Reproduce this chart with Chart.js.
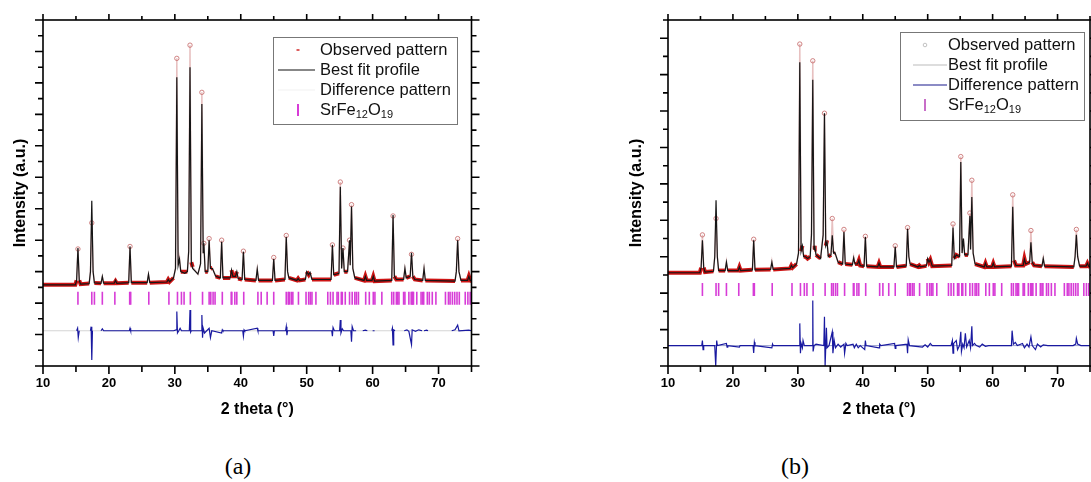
<!DOCTYPE html>
<html>
<head>
<meta charset="utf-8">
<script src="https://cdn.jsdelivr.net/npm/chart.js@4.4.1/dist/chart.umd.min.js"></script>
<style>
  html, body { margin: 0; padding: 0; background: #fff; }
  body { width: 1091px; height: 482px; overflow: hidden; position: relative; }
  canvas { position: absolute; top: 0; }
  #cA { left: 0; }
  #cB { left: 620px; }
  .cap { position: absolute; top: 452px; font-family: "Liberation Serif", "Times New Roman", serif; font-size: 24px; line-height: 28px; color: #000; transform: translateX(-50%); }
</style>
</head>
<body>
<canvas id="cA" width="520" height="430"></canvas>
<canvas id="cB" width="480" height="430"></canvas>
<div class="cap" style="left:238px">(a)</div>
<div class="cap" style="left:795px">(b)</div>
<script>
// ---------------- data ----------------
const xTickLabels = [10, 20, 30, 40, 50, 60, 70];
const legendLabels = ['Observed pattern', 'Best fit profile', 'Difference pattern', 'SrFe12O19'];
const phaseParts = [['SrFe', false], ['12', true], ['O', false], ['19', true]];

// SrFe12O19 reflection positions (2 theta, degrees)
const reflections = [15.3, 17.4, 17.8, 19.0, 20.9, 23.15, 23.3, 26.05, 29.1, 30.4, 31.0, 31.4, 32.35,
  34.2, 35.2, 35.45, 35.8, 36.1, 37.2, 38.55, 38.65, 39.1, 39.4, 40.45, 42.6, 43.1, 44.0, 45.0,
  46.9, 47.2, 47.35, 47.65, 47.9, 48.75, 49.9, 50.3, 50.55, 50.8, 51.4, 53.2, 53.6, 54.0, 54.6,
  54.8, 55.25, 55.4, 55.85, 56.5, 56.9, 57.3, 57.55, 57.85, 58.95, 59.5, 60.1, 60.35, 61.4,
  62.9, 63.2, 63.6, 63.8, 64.0, 64.7, 64.9, 65.5, 65.85, 66.0, 66.1, 66.2, 66.7, 67.35, 67.6,
  67.75, 68.3, 68.6, 69.05, 69.6, 71.05, 71.5, 71.75, 72.1, 72.45, 72.8, 73.15, 74.05, 74.45, 74.8];

// ---- panel (a) ----
const twoThetaA = [10.0, 14.9, 15.1, 15.3, 15.5, 15.7, 17.0, 17.2, 17.4, 17.6, 17.8, 18.8, 19.0, 19.2,
  20.8, 21.0, 21.2, 23.0, 23.2, 23.4, 25.8, 26.0, 26.2, 28.8, 29.0, 29.2, 29.8, 30.1, 30.3, 30.5,
  30.7, 30.9, 31.5, 31.9, 32.1, 32.3, 32.5, 32.7, 33.5, 33.9, 34.1, 34.3, 34.4, 34.6, 35.0, 35.2,
  35.4, 35.7, 36.2, 36.9, 37.1, 37.3, 38.4, 38.6, 38.8, 39.2, 39.4, 39.6, 40.2, 40.4, 40.6, 42.3,
  42.5, 42.7, 44.8, 45.0, 45.2, 46.7, 46.9, 47.1, 47.3, 48.5, 48.7, 48.9, 49.8, 50.0, 50.3, 50.5,
  50.8, 53.7, 53.9, 54.1, 54.9, 55.1, 55.3, 55.5, 55.7, 56.2, 56.5, 56.6, 56.8, 57.0, 57.3, 58.7,
  58.9, 59.1, 59.9, 60.1, 60.3, 62.9, 63.1, 63.3, 63.6, 64.7, 64.9, 65.1, 65.7, 65.9, 66.1, 66.4,
  67.6, 67.8, 68.0, 72.5, 72.7, 72.9, 73.1, 73.4, 74.4, 74.6, 74.8, 75.0];
const calculatedA = [2.58, 2.58, 2.72, 3.75, 2.72, 2.6, 2.62, 3.0, 5.25, 3.0, 2.64, 2.63, 2.85, 2.63,
  2.63, 2.72, 2.63, 2.65, 3.8, 2.65, 2.65, 2.92, 2.65, 2.67, 2.75, 2.68, 2.8, 3.1, 9.18, 3.2,
  3.4, 3.0, 2.95, 3.0, 3.65, 9.5, 3.3, 3.1, 2.92, 3.25, 8.33, 3.6, 3.9, 3.0, 3.0, 4.0,
  3.1, 3.1, 2.85, 2.8, 3.95, 2.8, 2.8, 3.05, 2.85, 2.85, 3.0, 2.78, 2.75, 3.63, 2.75, 2.72,
  3.08, 2.72, 2.72, 3.4, 2.72, 2.75, 4.1, 3.0, 2.8, 2.72, 2.78, 2.72, 2.75, 3.0, 2.9, 2.98,
  2.75, 2.75, 3.85, 2.9, 2.95, 5.7, 3.1, 3.75, 3.0, 3.0, 4.0, 3.2, 5.07, 3.1, 2.8, 2.72,
  2.85, 2.72, 2.72, 2.85, 2.7, 2.72, 4.8, 2.85, 2.75, 2.75, 3.1, 2.8, 2.85, 3.6, 2.85, 2.75,
  2.72, 3.1, 2.72, 2.7, 3.0, 4.0, 3.0, 2.72, 2.72, 2.85, 2.72, 2.7];
const observedA = [2.58, 2.58, 2.72, 3.72, 2.72, 2.6, 2.62, 3.0, 4.55, 3.0, 2.64, 2.63, 2.83, 2.63,
  2.63, 2.7, 2.63, 2.65, 3.8, 2.65, 2.65, 2.9, 2.65, 2.67, 2.75, 2.68, 2.8, 3.1, 9.78, 3.2,
  3.45, 3.0, 3.0, 3.0, 3.65, 10.2, 3.3, 3.15, 2.92, 3.25, 8.7, 3.6, 3.9, 3.0, 3.0, 4.05,
  3.1, 3.12, 2.85, 2.8, 4.0, 2.8, 2.8, 3.05, 2.85, 2.85, 3.0, 2.78, 2.75, 3.65, 2.75, 2.72,
  3.08, 2.72, 2.72, 3.45, 2.72, 2.75, 4.15, 3.0, 2.8, 2.72, 2.78, 2.72, 2.75, 3.0, 2.9, 2.98,
  2.75, 2.75, 3.85, 2.9, 2.95, 5.85, 3.1, 3.75, 3.0, 3.0, 4.0, 3.2, 5.13, 3.1, 2.8, 2.72,
  2.85, 2.72, 2.72, 2.85, 2.7, 2.72, 4.77, 2.85, 2.75, 2.75, 3.1, 2.8, 2.85, 3.55, 2.85, 2.75,
  2.72, 3.1, 2.72, 2.7, 3.0, 4.05, 3.0, 2.72, 2.72, 2.85, 2.72, 2.7];
const diffThetaA = [15.1, 15.25, 15.35, 15.5, 16.3, 17.2, 17.3, 17.4, 17.5, 18.1, 18.8, 19.0, 19.2,
  23.1, 23.2, 23.3, 29.8, 30.2, 30.3, 30.4, 30.6, 30.8, 31.0, 32.2, 32.3, 32.4, 32.5, 34.0, 34.1,
  34.2, 34.3, 34.5, 35.2, 35.4, 35.6, 37.1, 37.2, 37.3, 40.3, 40.4, 40.5, 40.6, 42.5, 42.6, 44.9,
  45.0, 45.1, 46.8, 46.9, 47.0, 47.1, 53.8, 53.9, 54.0, 54.2, 55.0, 55.1, 55.2, 55.4, 55.6, 56.7,
  56.8, 56.9, 57.1, 57.5, 58.0, 58.5, 58.9, 59.2, 59.6, 60.0, 60.3, 61.5, 62.9, 63.0, 63.1, 63.2,
  63.4, 64.1, 64.8, 65.2, 65.5, 65.9, 66.0, 66.5, 67.0, 67.5, 67.7, 67.8, 68.2, 68.4, 70.0, 72.0,
  72.5, 72.9, 73.1, 74.6, 75.0];
const differenceA = [1.12, 1.2, 0.9, 1.12, null, 1.12, 1.25, 0.19, 1.12, null, 1.12, 1.18, 1.12,
  1.12, 1.2, 1.12, 1.12, 1.15, 1.73, 1.05, 1.12, 1.2, 1.12, 1.12, 1.78, 1.08, 1.12, 1.12, 1.62,
  0.9, 1.2, 1.05, 1.2, 0.9, 1.12, 1.05, 1.15, 1.12, 1.12, 0.95, 1.15, 1.12, 1.2, 1.12, 1.12,
  0.96, 1.12, 1.12, 1.25, 0.98, 1.12, 1.12, 0.95, 1.22, 1.12, 1.12, 1.46, 1.05, 1.18, 1.12, 1.12,
  0.77, 1.25, 1.12, 1.12, null, 1.12, 1.14, 1.12, null, 1.12, 1.12, null, 1.12, 1.2, 0.67, 1.15,
  1.12, null, 1.12, 1.15, 1.1, 0.68, 1.15, 1.1, 1.15, 1.12, null, 1.12, 1.14, 1.12, null, 1.12,
  1.15, 1.3, 1.12, 1.14, 1.12];

// ---- panel (b) ----
const twoThetaB = [10.0, 14.9, 15.1, 15.3, 15.5, 15.7, 17.0, 17.2, 17.4, 17.6, 17.8, 18.8, 19.0, 19.2,
  20.8, 21.0, 21.2, 23.0, 23.2, 23.4, 25.8, 26.0, 26.2, 28.8, 29.0, 29.2, 29.8, 30.1, 30.3, 30.5,
  30.7, 30.9, 31.2, 31.5, 31.9, 32.1, 32.3, 32.5, 32.6, 32.8, 33.5, 33.9, 34.1, 34.3, 34.5, 34.7,
  35.1, 35.3, 35.5, 35.7, 36.2, 36.9, 37.1, 37.3, 38.4, 38.6, 38.8, 39.2, 39.4, 39.6, 40.2, 40.4,
  40.6, 42.3, 42.5, 42.7, 44.8, 45.0, 45.2, 46.7, 46.9, 47.1, 47.3, 48.5, 48.7, 48.9, 49.8, 50.0,
  50.2, 50.4, 50.7, 53.7, 53.9, 54.1, 54.4, 54.9, 55.1, 55.3, 55.5, 55.7, 56.2, 56.5, 56.6, 56.8,
  57.0, 57.3, 58.7, 58.9, 59.1, 59.9, 60.1, 60.3, 62.9, 63.1, 63.3, 63.6, 64.7, 64.9, 65.1, 65.7,
  65.9, 66.1, 66.4, 67.6, 67.8, 68.0, 72.5, 72.7, 72.9, 73.1, 73.4, 74.4, 74.6, 74.8, 75.0];
const calculatedB = [2.56, 2.56, 2.7, 3.45, 2.7, 2.58, 2.6, 3.0, 4.55, 3.0, 2.62, 2.62, 2.85, 2.62,
  2.62, 2.72, 2.62, 2.64, 3.45, 2.64, 2.65, 2.85, 2.65, 2.68, 2.76, 2.7, 2.8, 3.1, 8.34, 3.15,
  3.3, 3.0, 3.0, 2.95, 3.0, 3.6, 7.86, 3.2, 3.3, 3.05, 2.95, 3.6, 6.94, 3.3, 3.4, 3.0,
  3.05, 3.59, 3.1, 3.12, 2.85, 2.8, 3.68, 2.8, 2.78, 2.97, 2.8, 2.8, 2.9, 2.76, 2.74, 3.54,
  2.74, 2.72, 2.82, 2.72, 2.72, 3.27, 2.72, 2.75, 3.77, 3.0, 2.8, 2.72, 2.76, 2.72, 2.75, 2.95,
  2.85, 2.92, 2.74, 2.76, 3.8, 2.95, 3.05, 3.0, 5.6, 3.1, 3.5, 3.05, 3.05, 4.12, 3.2, 4.64,
  3.1, 2.8, 2.72, 2.82, 2.72, 2.72, 2.82, 2.72, 2.74, 4.37, 2.9, 2.76, 2.76, 2.93, 2.8, 2.85,
  3.4, 2.85, 2.76, 2.74, 2.95, 2.74, 2.72, 3.0, 3.6, 3.0, 2.74, 2.74, 2.82, 2.74, 2.72];
const observedB = [2.56, 2.56, 2.7, 3.6, 2.7, 2.58, 2.6, 3.0, 4.05, 3.0, 2.62, 2.62, 2.87, 2.62,
  2.62, 2.72, 2.62, 2.64, 3.48, 2.64, 2.65, 2.88, 2.65, 2.68, 2.76, 2.7, 2.8, 3.1, 8.84, 3.15,
  3.3, 3.0, 3.0, 2.95, 3.0, 3.64, 8.38, 3.2, 3.3, 3.05, 2.95, 3.64, 6.94, 3.3, 3.45, 3.0,
  3.05, 4.05, 3.1, 3.12, 2.85, 2.8, 3.75, 2.8, 2.78, 3.0, 2.8, 2.8, 2.9, 2.76, 2.74, 3.56,
  2.74, 2.72, 2.82, 2.72, 2.72, 3.3, 2.72, 2.75, 3.8, 3.0, 2.8, 2.72, 2.76, 2.72, 2.75, 2.95,
  2.85, 2.92, 2.74, 2.76, 3.9, 2.95, 3.05, 3.0, 5.75, 3.1, 3.5, 3.05, 3.05, 4.2, 3.2, 5.1,
  3.1, 2.8, 2.72, 2.82, 2.72, 2.72, 2.82, 2.72, 2.74, 4.7, 2.9, 2.76, 2.76, 2.95, 2.8, 2.85,
  3.72, 2.85, 2.76, 2.74, 2.97, 2.74, 2.72, 3.0, 3.75, 3.0, 2.74, 2.74, 2.82, 2.74, 2.72];
const diffThetaB = [10.0, 15.2, 15.3, 15.4, 15.5, 17.2, 17.35, 17.5, 17.6, 19.0, 19.1, 19.2, 21.0, 21.1,
  23.1, 23.2, 23.3, 23.4, 26.0, 26.1, 26.2, 29.8, 30.2, 30.3, 30.4, 30.5, 30.7, 30.8, 31.0, 32.2,
  32.3, 32.35, 32.5, 32.8, 34.0, 34.1, 34.2, 34.4, 34.5, 34.8, 35.3, 35.4, 35.6, 35.8, 36.2, 36.6,
  37.1, 37.2, 37.4, 37.6, 38.5, 38.7, 39.0, 39.3, 39.6, 40.3, 40.4, 40.5, 42.5, 42.6, 42.8, 44.9,
  45.0, 45.1, 46.8, 46.9, 47.0, 47.2, 49.2, 49.6, 50.0, 50.4, 50.7, 53.6, 53.8, 53.9, 54.0, 54.4,
  54.6, 54.9, 55.1, 55.2, 55.4, 55.6, 55.8, 56.0, 56.4, 56.6, 56.8, 56.9, 57.2, 57.5, 58.0, 58.4,
  58.9, 59.4, 62.9, 63.0, 63.2, 63.5, 63.8, 64.6, 64.9, 65.3, 65.6, 65.9, 66.1, 66.6, 66.9, 67.4,
  67.8, 68.5, 72.4, 72.8, 72.9, 73.1, 73.6, 75.0];
const differenceB = [0.56, 0.56, 0.7, 0.45, 0.56, 0.56, 0.0, 0.7, 0.56, 0.62, 0.52, 0.56, 0.52, 0.56,
  0.56, 0.36, 0.65, 0.56, 0.5, 0.6, 0.56, 0.56, 0.56, 1.17, 0.35, 0.62, 0.5, 0.7, 0.56, 0.56,
  1.8, 0.4, 0.56, 0.6, 0.56, 1.35, 0.0, 1.05, 0.5, 0.56, 0.94, 0.35, 0.7, 0.5, 0.6, 0.52,
  0.6, 0.35, 0.62, 0.56, 0.6, 0.5, 0.6, 0.5, 0.56, 0.45, 0.7, 0.56, 0.5, 0.6, 0.56, 0.62,
  0.48, 0.56, 0.6, 0.35, 0.72, 0.56, 0.52, 0.58, 0.52, 0.62, 0.56, 0.56, 0.7, 0.35, 0.62, 0.7,
  0.45, 0.56, 0.94, 0.4, 0.6, 0.5, 0.9, 0.52, 0.7, 0.5, 1.09, 0.56, 0.62, 0.56, 0.52, 0.6,
  0.54, 0.56, 0.56, 0.97, 0.6, 0.65, 0.56, 0.62, 0.5, 0.6, 0.52, 0.8, 0.56, 0.45, 0.6, 0.52,
  0.58, 0.56, 0.56, 0.6, 0.76, 0.6, 0.56, 0.56];

// ---------------- helpers ----------------
const FONT = '"Liberation Sans", Arial, Helvetica, sans-serif';
const pts = (xs, ys) => xs.map((x, i) => ({ x: x, y: ys[i] }));

function peakRadius(values) {
  return ctx => {
    const i = ctx.dataIndex, v = values[i];
    const p = i > 0 ? values[i - 1] : v, n = i < values.length - 1 ? values[i + 1] : v;
    return (v >= p && v >= n && v - Math.min(p, n) > 0.5) ? 2.2 : 0;
  };
}
const steep = s => Math.abs(s.p1.parsed.y - s.p0.parsed.y) > 0.2;

const framePlugin = {
  id: 'frame',
  afterDraw(chart) {
    const { ctx, chartArea: a, scales: { x, y } } = chart;
    ctx.save();
    ctx.strokeStyle = '#000';
    ctx.lineWidth = 1.6;
    ctx.strokeRect(a.left, a.top, a.right - a.left, a.bottom - a.top);
    ctx.beginPath();
    x.ticks.forEach(t => {
      const px = x.getPixelForValue(t.value);
      const major = t.value % 10 === 0;
      ctx.moveTo(px, a.bottom); ctx.lineTo(px, a.bottom + (major ? 8 : 6));
      ctx.moveTo(px, a.top); ctx.lineTo(px, a.top - (major ? 6 : 4));
    });
    y.ticks.forEach(t => {
      const py = y.getPixelForValue(t.value);
      const major = Number.isInteger(t.value);
      const l = major ? 8 : 5;
      ctx.moveTo(a.left, py); ctx.lineTo(a.left - l, py);
      ctx.moveTo(a.right, py); ctx.lineTo(a.right + l, py);
    });
    ctx.stroke();
    ctx.restore();
  }
};

const legendPlugin = {
  id: 'boxLegend',
  afterDraw(chart, args, o) {
    if (!o || !o.box) return;
    const ctx = chart.ctx;
    const [bx, by, bw, bh] = o.box;
    ctx.save();
    ctx.fillStyle = '#fff';
    ctx.fillRect(bx, by, bw, bh);
    ctx.strokeStyle = '#777';
    ctx.lineWidth = 1;
    ctx.strokeRect(bx + 0.5, by + 0.5, bw, bh);
    const rows = o.rows;
    if (o.obsStyle === 'dash') {
      ctx.strokeStyle = 'rgb(210,40,40)'; ctx.lineWidth = 1.5;
      ctx.beginPath(); ctx.moveTo(o.symX - 1.5, rows[0]); ctx.lineTo(o.symX + 1.5, rows[0]); ctx.stroke();
    } else {
      ctx.strokeStyle = 'rgba(170,170,170,0.7)'; ctx.lineWidth = 1;
      ctx.beginPath(); ctx.arc(o.symX, rows[0], 1.8, 0, Math.PI * 2); ctx.stroke();
    }
    ctx.strokeStyle = o.fitColor; ctx.lineWidth = 1.2;
    ctx.beginPath(); ctx.moveTo(o.lineX[0], rows[1]); ctx.lineTo(o.lineX[1], rows[1]); ctx.stroke();
    ctx.strokeStyle = o.diffColor; ctx.lineWidth = 1.2;
    ctx.beginPath(); ctx.moveTo(o.lineX[0], rows[2]); ctx.lineTo(o.lineX[1], rows[2]); ctx.stroke();
    ctx.strokeStyle = o.phaseColor; ctx.lineWidth = 2;
    ctx.beginPath(); ctx.moveTo(o.symX, rows[3] - 6); ctx.lineTo(o.symX, rows[3] + 6); ctx.stroke();
    ctx.fillStyle = '#111';
    ctx.textBaseline = 'middle';
    ctx.textAlign = 'left';
    const fs = o.fontSize;
    ctx.font = fs + 'px ' + FONT;
    for (let i = 0; i < 3; i++) ctx.fillText(legendLabels[i], o.textX, rows[i]);
    let tx = o.textX;
    phaseParts.forEach(([s, sub]) => {
      ctx.font = (sub ? 11 : fs) + 'px ' + FONT;
      ctx.fillText(s, tx, rows[3] + (sub ? 5 : 0));
      tx += ctx.measureText(s).width;
    });
    ctx.restore();
  }
};

function makeChart(id, cfg) {
  const c = document.getElementById(id);
  return new Chart(c, {
    type: 'line',
    data: {
      datasets: [
        { label: legendLabels[1], data: pts(cfg.theta, cfg.calc), borderColor: '#151515', borderWidth: 1.2,
          pointRadius: 0, tension: 0, order: 0 },
        { label: legendLabels[0], data: pts(cfg.theta, cfg.obs), borderColor: 'rgb(205,20,20)', borderWidth: 4,
          tension: 0, order: 1,
          segment: {
            borderColor: s => steep(s) ? 'rgba(215,150,150,0.6)' : 'rgb(205,20,20)',
            borderWidth: s => steep(s) ? 1.5 : 4
          },
          pointStyle: 'circle', pointRadius: peakRadius(cfg.obs), pointBorderWidth: 1,
          pointBorderColor: 'rgba(200,110,110,0.85)', pointBackgroundColor: 'rgba(255,255,255,0)' },
        { label: legendLabels[2], data: pts(cfg.diffTheta, cfg.diff), borderColor: 'rgb(25,25,160)', borderWidth: 1.2,
          pointRadius: 0, tension: 0, spanGaps: false, order: 2 },
        { label: 'zero', data: pts([10, 75], [cfg.zero, cfg.zero]), borderColor: cfg.zeroColor, borderWidth: 1,
          pointRadius: 0, order: 3 },
        { label: 'SrFe₁₂O₁₉', data: reflections.map(x => ({ x: x, y: cfg.refY })), showLine: false,
          pointStyle: 'line', pointRotation: 90, pointRadius: 6.5, pointBorderWidth: 1.6,
          pointBorderColor: 'rgb(215,60,215)', pointBackgroundColor: 'rgb(215,60,215)', order: 4 }
      ]
    },
    options: {
      responsive: false,
      animation: false,
      events: [],
      layout: { padding: cfg.padding },
      plugins: { legend: { display: false }, tooltip: { enabled: false }, boxLegend: cfg.legend },
      scales: {
        x: {
          type: 'linear', min: 10, max: 75,
          afterFit: s => { s.height = 64; },
          grid: { display: false, drawTicks: false },
          border: { display: false },
          ticks: { stepSize: 5, autoSkip: false, maxRotation: 0, padding: 10, color: '#000',
            font: { family: FONT, size: 13, weight: 'bold' },
            callback: v => xTickLabels.includes(v) ? String(v) : '' },
          title: { display: true, text: '2 theta (°)', color: '#000',
            font: { family: FONT, size: 16, weight: 'bold' }, padding: { top: 0, bottom: 11 } }
        },
        y: {
          type: 'linear', min: 0, max: cfg.yMax,
          afterFit: s => { s.width = cfg.yWidth; },
          grid: { display: false, drawTicks: false },
          border: { display: false },
          ticks: { display: false, stepSize: 0.5 },
          title: { display: true, text: 'Intensity (a.u.)', color: '#000',
            font: { family: FONT, size: 16, weight: 'bold' }, padding: { top: cfg.yTitlePad, bottom: 0 } }
        }
      }
    },
    plugins: [framePlugin, legendPlugin]
  });
}

makeChart('cA', {
  theta: twoThetaA, calc: calculatedA, obs: observedA, diffTheta: diffThetaA, diff: differenceA,
  zero: 1.12, zeroColor: '#d4d4d4', refY: 2.15, yMax: 11, yWidth: 43, yTitlePad: 11,
  padding: { left: 0, top: 20, right: 48.5, bottom: 0 },
  legend: { box: [273, 37, 184, 87], rows: [50, 70, 90, 110], textX: 320, symX: 298, lineX: [278, 315],
    fontSize: 16.5, obsStyle: 'dash', fitColor: '#111', diffColor: '#f2f2f2', phaseColor: 'rgb(215,60,215)' }
});
makeChart('cB', {
  theta: twoThetaB, calc: calculatedB, obs: observedB, diffTheta: diffThetaB, diff: differenceB,
  zero: 0.56, zeroColor: '#9aa0cc', refY: 2.1, yMax: 9.5, yWidth: 48, yTitlePad: 7,
  padding: { left: 0, top: 20, right: 4.6, bottom: 0 },
  legend: { box: [280, 32, 184, 88], rows: [45, 65, 85, 105], textX: 328, symX: 305, lineX: [293, 327],
    fontSize: 16.5, obsStyle: 'circle', fitColor: '#bbbbbb', diffColor: 'rgb(25,25,140)', phaseColor: 'rgb(200,110,200)' }
});
</script>
</body>
</html>
